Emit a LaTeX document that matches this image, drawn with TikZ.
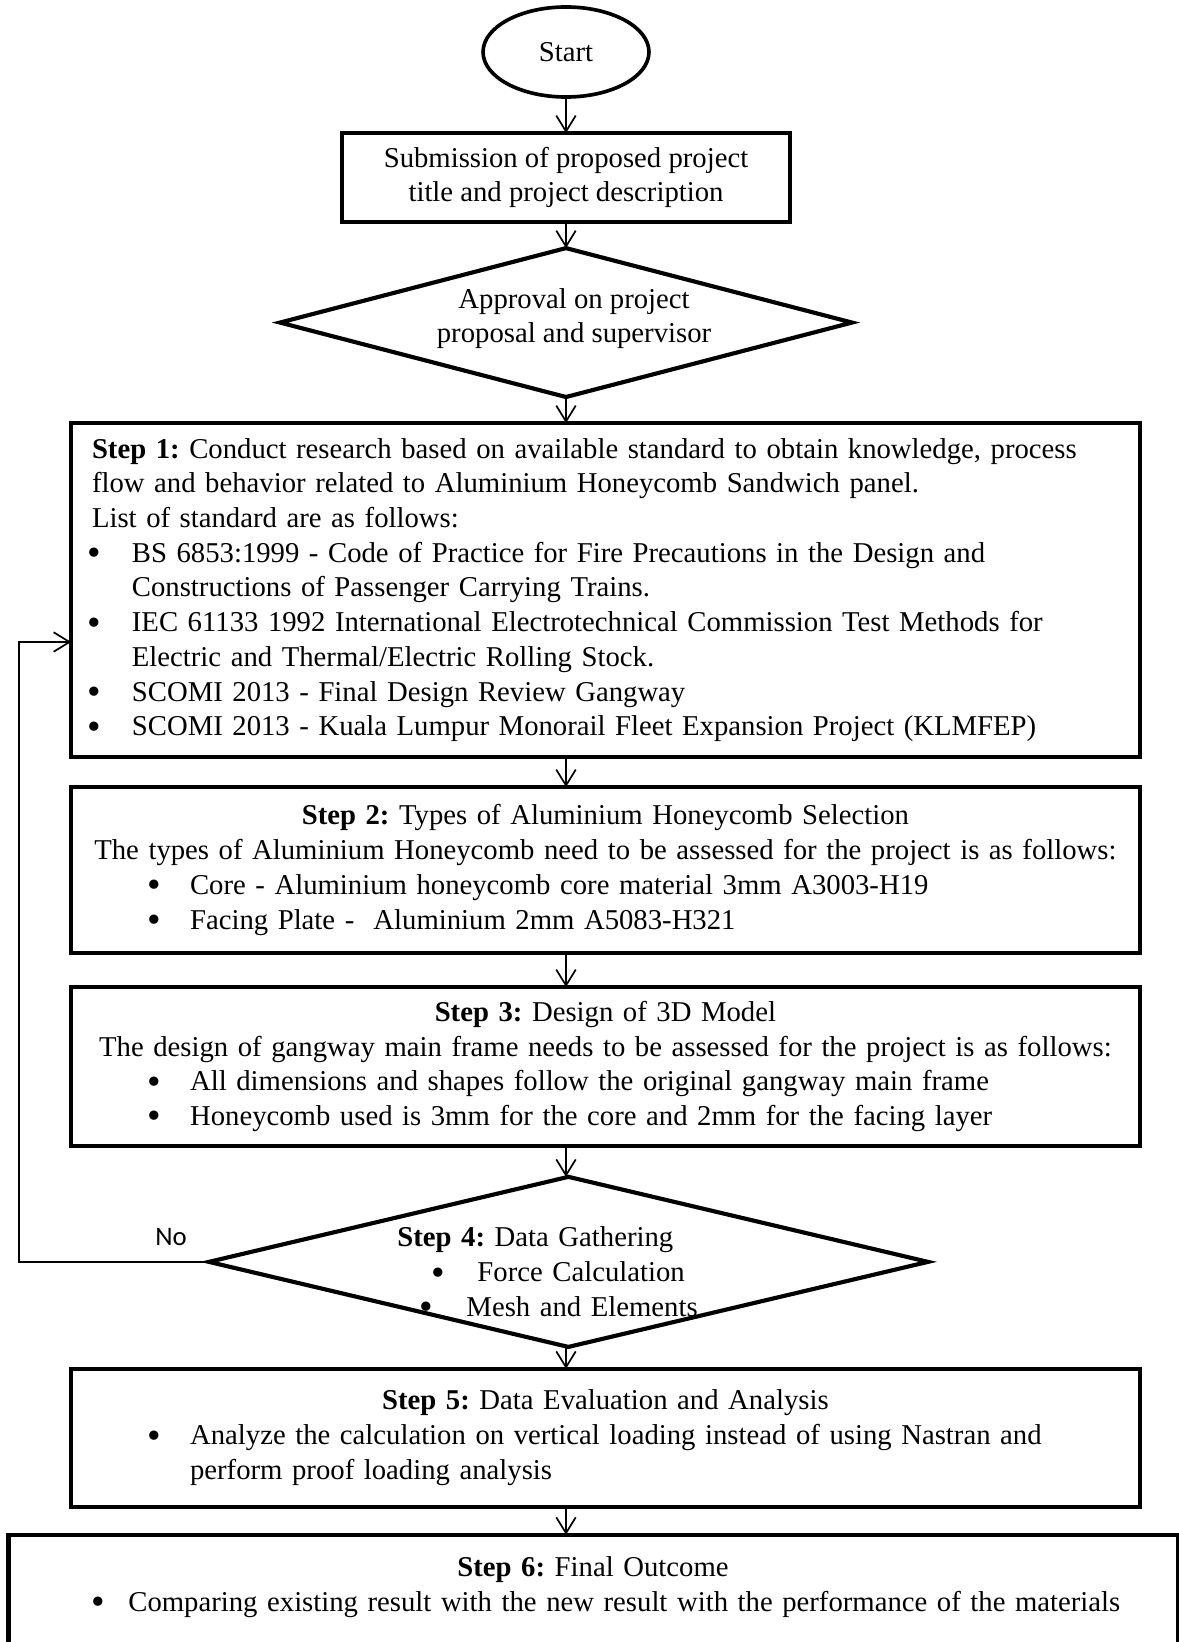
\documentclass[tikz,border=0pt]{standalone}
\usepackage{fontspec}
\setmainfont{Liberation Serif}
\newfontfamily\sansnote{Carlito}
\usetikzlibrary{arrows.meta,positioning,shapes.geometric}
\newcommand{\bdot}{\smash{\raisebox{-0.12em}{\scalebox{1.35}{\textbullet}}}}
\newcommand{\bul}[3]{\makebox[\linewidth][l]{\hspace*{#1}\makebox[#2][l]{\bdot}#3}}

\begin{document}
\begin{tikzpicture}[x=0.411pt, y=-0.411pt, font=\fontsize{11.8}{14.26}\selectfont\frenchspacing, box/.style={draw, line width=1.7pt, outer sep=0pt, align=center}, stepbox/.style={box, minimum width=439pt, text width=422pt, inner xsep=8.6pt}, term/.style={draw, ellipse, line width=1.5pt, outer sep=0pt, minimum width=68.2pt, minimum height=37pt}, dec/.style={draw, diamond, line width=1.7pt, outer sep=0pt, inner sep=0pt}, arr/.style={-{Straight Barb[length=6.5pt, width=8pt]}, line width=0.7pt}]
\useasboundingbox (0,0) rectangle (1179,1642);
\node[term] (start) at (566,52) {Start};
\node[box, minimum width=184.1pt, minimum height=36.6pt, below=14.8pt of start] (sub) {Submission of proposed project\\title and project description};
\node[dec, minimum width=235.1pt, minimum height=61.2pt, below=10.7pt of sub, label={[align=center, xshift=3.3pt, yshift=1.6pt]center:Approval on project\\proposal and supervisor}] (appr) {};
\node[stepbox, align=left, minimum height=137.3pt, below=10.7pt of appr, xshift=16.2pt] (step1) {\textbf{Step 1:} Conduct research based on available standard to obtain knowledge, process\\
flow and behavior related to Aluminium Honeycomb Sandwich panel.\\
List of standard are as follows:\\
\bul{-2pt}{18.4pt}{BS 6853:1999 - Code of Practice for Fire Precautions in the Design and}\\
\hspace*{16.4pt}Constructions of Passenger Carrying Trains.\\
\bul{-2pt}{18.4pt}{\makebox[\dimexpr\linewidth-16.4pt\relax][s]{IEC 61133 1992 International Electrotechnical Commission Test Methods for}}\\
\hspace*{16.4pt}Electric and Thermal/Electric Rolling Stock.\\
\bul{-2pt}{18.4pt}{SCOMI 2013 - Final Design Review Gangway}\\
\bul{-2pt}{18.4pt}{SCOMI 2013 - Kuala Lumpur Monorail Fleet Expansion Project (KLMFEP)}};
\node[stepbox, minimum height=68.2pt, below=12.3pt of step1] (step2) {\textbf{Step 2:} Types of Aluminium Honeycomb Selection\\
The types of Aluminium Honeycomb need to be assessed for the project is as follows:\\
\bul{22.6pt}{17.7pt}{Core - Aluminium honeycomb core material 3mm A3003-H19}\\
\bul{22.6pt}{17.7pt}{Facing Plate - \ Aluminium 2mm A5083-H321}};
\node[stepbox, minimum height=65.3pt, below=14pt of step2] (step3) {\textbf{Step 3:} Design of 3D Model\\
The design of gangway main frame needs to be assessed for the project is as follows:\\
\bul{22.6pt}{17.7pt}{All dimensions and shapes follow the original gangway main frame}\\
\bul{22.6pt}{17.7pt}{Honeycomb used is 3mm for the core and 2mm for the facing layer}};
\node[dec, minimum width=295.5pt, minimum height=69.9pt, below=12.7pt of step3, xshift=-15.2pt, label={[text width=135pt, inner sep=0pt, align=left, xshift=-2.8pt, yshift=-4.1pt]center:\textbf{Step 4:} Data Gathering\\
\hspace*{14pt}\makebox[18.9pt][l]{\bdot}Force Calculation\\
\hspace*{9pt}\makebox[19.4pt][l]{\bdot}Mesh and Elements}] (gather) {};
\node[stepbox, minimum height=56.7pt, below=9pt of gather, xshift=15.2pt] (step5) {\textbf{Step 5:} Data Evaluation and Analysis\\
\bul{22.6pt}{17.7pt}{Analyze the calculation on vertical loading instead of using Nastran and}\\
\makebox[\linewidth][l]{\hspace*{40.3pt}perform proof loading analysis}};
\node[stepbox, minimum width=480.5pt, text width=463.3pt, inner ysep=9pt, text depth=45pt, below=11.5pt of step5, xshift=-5.1pt] (step6) {\textbf{Step 6:} Final Outcome\\
\bul{25.5pt}{15.2pt}{Comparing existing result with the new result with the performance of the materials}};
\coordinate (loop) at (19,642);
\draw[arr] (start) -- (sub);
\draw[arr] (sub) -- (appr);
\draw[arr] (appr.south) -- (appr.south |- step1.north);
\draw[arr] (step1.south -| appr.south) -- (step2.north -| appr.south);
\draw[arr] (step2.south -| appr.south) -- (step3.north -| appr.south);
\draw[arr] (step3.south -| appr.south) -- (gather.north -| appr.south);
\draw[arr] (gather.south -| appr.south) -- (step5.north -| appr.south);
\draw[arr] (step5.south -| appr.south) -- (step6.north -| appr.south);
\draw[arr] (gather.west) -| node[pos=0.1, yshift=10.3pt, font=\sansnote\fontsize{11}{13}\selectfont] {No} (loop) -- (loop -| step1.west);
\end{tikzpicture}
\end{document}
